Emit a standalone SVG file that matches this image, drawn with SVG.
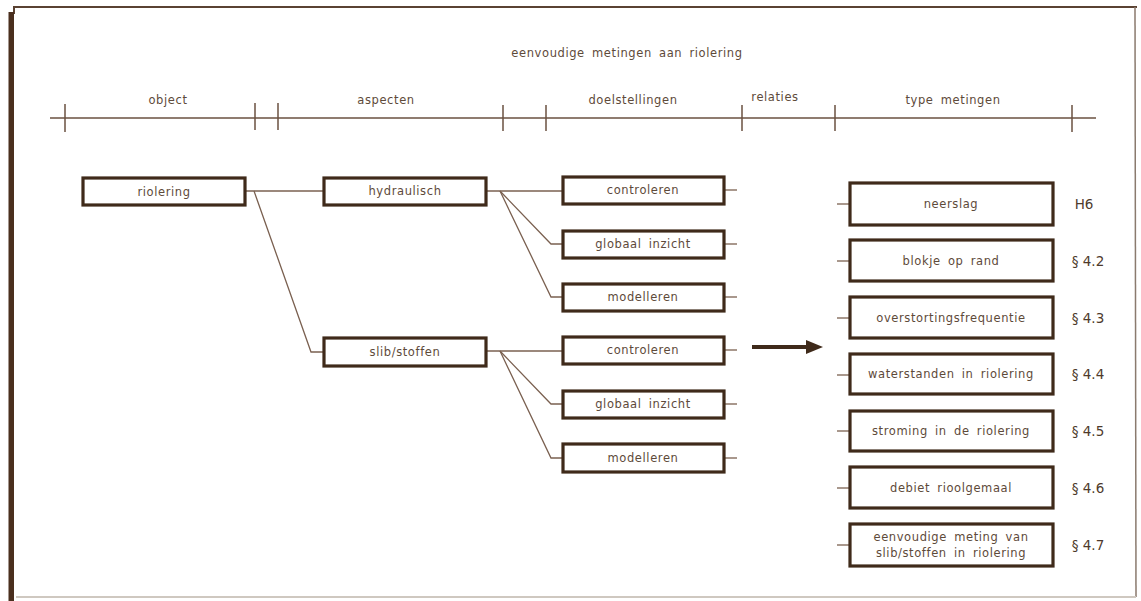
<svg xmlns="http://www.w3.org/2000/svg" width="1141" height="601" viewBox="0 0 1141 601">
  <style>
    .bg { fill: #ffffff; }
    .box { fill: #ffffff; stroke: #3f2a1a; stroke-width: 3.2; }
    .ln { fill: none; stroke: #7a6050; stroke-width: 1.3; }
    .tick { fill: none; stroke: #6a5040; stroke-width: 1.5; }
    .t { font-family: "DejaVu Sans", "Liberation Sans", sans-serif; font-size: 11.5px; fill: #5e4a3a; text-anchor: middle; letter-spacing: 0.6px; word-spacing: 3px; }
    .ref { font-family: "DejaVu Sans", "Liberation Sans", sans-serif; font-size: 13.5px; fill: #4e3a2c; text-anchor: middle; }
  </style>

  <rect class="bg" x="0" y="0" width="1141" height="601"/>

  <!-- page frame -->
  <g id="frame">
    <line x1="13" y1="7" x2="1137" y2="7" stroke="#5a4232" stroke-width="2"/>
    <line x1="1135" y1="7" x2="1136" y2="597" stroke="#8a7a6e" stroke-width="1.5"/>
    <line x1="16" y1="597" x2="1136" y2="597" stroke="#cfc8c0" stroke-width="2"/>
    <line x1="14" y1="7" x2="14" y2="14" stroke="#5a4232" stroke-width="2"/>
    <rect x="8.5" y="12" width="5.5" height="589" fill="#4a2f1e"/>
  </g>

  <!-- title and column header -->
  <g id="header">
    <text class="t" x="627" y="57">eenvoudige metingen aan riolering</text>
    <line class="tick" x1="50" y1="118" x2="1096" y2="118"/>
    <line class="tick" x1="65" y1="104" x2="65" y2="132"/>
    <line class="tick" x1="255" y1="103" x2="255" y2="130"/>
    <line class="tick" x1="278" y1="103" x2="278" y2="130"/>
    <line class="tick" x1="503" y1="105" x2="503" y2="131"/>
    <line class="tick" x1="546" y1="105" x2="546" y2="131"/>
    <line class="tick" x1="742" y1="105" x2="742" y2="131"/>
    <line class="tick" x1="835" y1="105" x2="835" y2="131"/>
    <line class="tick" x1="1072" y1="105" x2="1072" y2="132"/>
    <text class="t" x="168" y="104">object</text>
    <text class="t" x="386" y="104">aspecten</text>
    <text class="t" x="633" y="104">doelstellingen</text>
    <text class="t" x="775" y="101">relaties</text>
    <text class="t" x="953" y="104">type metingen</text>
  </g>

  <!-- connectors -->
  <g id="connectors">
    <line class="ln" x1="245" y1="191" x2="324" y2="191"/>
    <polyline class="ln" points="254,191 311,352 324,352"/>

    <line class="ln" x1="486" y1="191" x2="563" y2="191"/>
    <polyline class="ln" points="500,191 551,244 563,244"/>
    <polyline class="ln" points="500,191 551,297 563,297"/>

    <line class="ln" x1="486" y1="351" x2="563" y2="351"/>
    <polyline class="ln" points="500,351 551,404 563,404"/>
    <polyline class="ln" points="500,351 551,458 563,458"/>

    <line class="ln" x1="724" y1="190" x2="737" y2="190"/>
    <line class="ln" x1="724" y1="244" x2="737" y2="244"/>
    <line class="ln" x1="724" y1="297" x2="737" y2="297"/>
    <line class="ln" x1="724" y1="350" x2="737" y2="350"/>
    <line class="ln" x1="724" y1="404" x2="737" y2="404"/>
    <line class="ln" x1="724" y1="458" x2="737" y2="458"/>

    <line class="ln" x1="837" y1="204" x2="850" y2="204"/>
    <line class="ln" x1="837" y1="261" x2="850" y2="261"/>
    <line class="ln" x1="837" y1="318" x2="850" y2="318"/>
    <line class="ln" x1="837" y1="375" x2="850" y2="375"/>
    <line class="ln" x1="837" y1="431" x2="850" y2="431"/>
    <line class="ln" x1="837" y1="488" x2="850" y2="488"/>
    <line class="ln" x1="837" y1="545" x2="850" y2="545"/>

    <!-- main arrow -->
    <line x1="752" y1="347" x2="810" y2="347" stroke="#3f2a1a" stroke-width="4"/>
    <polygon points="806,340 823,347 806,354" fill="#3f2a1a"/>
  </g>

  <!-- object -->
  <g id="n-riolering">
    <rect class="box" x="83" y="178" width="162" height="27"/>
    <text class="t" x="164" y="196">riolering</text>
  </g>

  <!-- aspecten -->
  <g id="n-hydraulisch">
    <rect class="box" x="324" y="178" width="162" height="27"/>
    <text class="t" x="405" y="195">hydraulisch</text>
  </g>
  <g id="n-slib">
    <rect class="box" x="324" y="338" width="162" height="28"/>
    <text class="t" x="405" y="356">slib/stoffen</text>
  </g>

  <!-- doelstellingen -->
  <g id="n-controleren-1">
    <rect class="box" x="563" y="177" width="161" height="27"/>
    <text class="t" x="643" y="194">controleren</text>
  </g>
  <g id="n-globaal-1">
    <rect class="box" x="563" y="231" width="161" height="27"/>
    <text class="t" x="643" y="248">globaal inzicht</text>
  </g>
  <g id="n-modelleren-1">
    <rect class="box" x="563" y="284" width="161" height="27"/>
    <text class="t" x="643" y="301">modelleren</text>
  </g>
  <g id="n-controleren-2">
    <rect class="box" x="563" y="337" width="161" height="27"/>
    <text class="t" x="643" y="354">controleren</text>
  </g>
  <g id="n-globaal-2">
    <rect class="box" x="563" y="391" width="161" height="27"/>
    <text class="t" x="643" y="408">globaal inzicht</text>
  </g>
  <g id="n-modelleren-2">
    <rect class="box" x="563" y="444" width="161" height="28"/>
    <text class="t" x="643" y="462">modelleren</text>
  </g>

  <!-- type metingen -->
  <g id="n-neerslag">
    <rect class="box" x="850" y="183" width="203" height="42"/>
    <text class="t" x="951" y="208">neerslag</text>
    <text class="ref" x="1084" y="209">H6</text>
  </g>
  <g id="n-blokje">
    <rect class="box" x="850" y="240" width="203" height="41"/>
    <text class="t" x="951" y="265">blokje op rand</text>
    <text class="ref" x="1088" y="266">§ 4.2</text>
  </g>
  <g id="n-overstorting">
    <rect class="box" x="850" y="297" width="203" height="41"/>
    <text class="t" x="951" y="322">overstortingsfrequentie</text>
    <text class="ref" x="1088" y="323">§ 4.3</text>
  </g>
  <g id="n-waterstanden">
    <rect class="box" x="850" y="354" width="203" height="40"/>
    <text class="t" x="951" y="378">waterstanden in riolering</text>
    <text class="ref" x="1088" y="379">§ 4.4</text>
  </g>
  <g id="n-stroming">
    <rect class="box" x="850" y="411" width="203" height="40"/>
    <text class="t" x="951" y="435">stroming in de riolering</text>
    <text class="ref" x="1088" y="436">§ 4.5</text>
  </g>
  <g id="n-debiet">
    <rect class="box" x="850" y="467" width="203" height="41"/>
    <text class="t" x="951" y="492">debiet rioolgemaal</text>
    <text class="ref" x="1088" y="493">§ 4.6</text>
  </g>
  <g id="n-slibmeting">
    <rect class="box" x="850" y="524" width="203" height="42"/>
    <text class="t" x="951" y="541">eenvoudige meting van</text>
    <text class="t" x="951" y="557">slib/stoffen in riolering</text>
    <text class="ref" x="1088" y="550">§ 4.7</text>
  </g>
</svg>
